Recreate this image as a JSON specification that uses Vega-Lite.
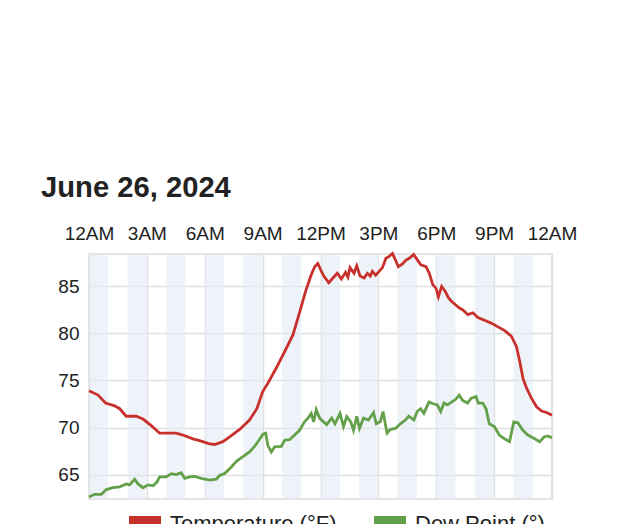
{
  "$schema": "https://vega.github.io/schema/vega-lite/v6.json",
  "autosize": {"type": "none"},
  "padding": {"left": 89, "top": 254, "right": 88, "bottom": 25},
  "width": 463,
  "height": 245,
  "background": "white",
  "config": {"font": "Liberation Sans", "view": {"stroke": "#dcdcdc", "strokeWidth": 1.5}},
  "title": {"text": "June 26, 2024", "anchor": "start", "frame": "group", "dx": -48, "fontSize": 29.2, "fontWeight": "bold", "color": "#222222", "offset": 21},
  "datasets": {
    "bands": [
      {"start": 0, "end": 1}, {"start": 2, "end": 3}, {"start": 4, "end": 5}, {"start": 6, "end": 7},
      {"start": 8, "end": 9}, {"start": 10, "end": 11}, {"start": 12, "end": 13}, {"start": 14, "end": 15},
      {"start": 16, "end": 17}, {"start": 18, "end": 19}, {"start": 20, "end": 21}, {"start": 22, "end": 23}
    ],
    "obs": [
      {"series": "Temperature (°F)", "hour": 0.0, "value": 73.9},
      {"series": "Temperature (°F)", "hour": 0.47, "value": 73.45},
      {"series": "Temperature (°F)", "hour": 0.86, "value": 72.6},
      {"series": "Temperature (°F)", "hour": 1.33, "value": 72.3},
      {"series": "Temperature (°F)", "hour": 1.59, "value": 72.0},
      {"series": "Temperature (°F)", "hour": 1.93, "value": 71.2},
      {"series": "Temperature (°F)", "hour": 2.45, "value": 71.2},
      {"series": "Temperature (°F)", "hour": 2.8, "value": 70.9},
      {"series": "Temperature (°F)", "hour": 3.23, "value": 70.2},
      {"series": "Temperature (°F)", "hour": 3.66, "value": 69.4},
      {"series": "Temperature (°F)", "hour": 4.0, "value": 69.4},
      {"series": "Temperature (°F)", "hour": 4.52, "value": 69.4},
      {"series": "Temperature (°F)", "hour": 4.87, "value": 69.2},
      {"series": "Temperature (°F)", "hour": 5.39, "value": 68.8},
      {"series": "Temperature (°F)", "hour": 5.82, "value": 68.55},
      {"series": "Temperature (°F)", "hour": 6.2, "value": 68.3},
      {"series": "Temperature (°F)", "hour": 6.51, "value": 68.2},
      {"series": "Temperature (°F)", "hour": 6.94, "value": 68.5},
      {"series": "Temperature (°F)", "hour": 7.29, "value": 69.0},
      {"series": "Temperature (°F)", "hour": 7.81, "value": 69.8},
      {"series": "Temperature (°F)", "hour": 8.32, "value": 70.8},
      {"series": "Temperature (°F)", "hour": 8.7, "value": 72.0},
      {"series": "Temperature (°F)", "hour": 9.0, "value": 73.8},
      {"series": "Temperature (°F)", "hour": 9.27, "value": 74.7},
      {"series": "Temperature (°F)", "hour": 9.7, "value": 76.3},
      {"series": "Temperature (°F)", "hour": 10.22, "value": 78.4},
      {"series": "Temperature (°F)", "hour": 10.57, "value": 79.85},
      {"series": "Temperature (°F)", "hour": 10.91, "value": 82.2},
      {"series": "Temperature (°F)", "hour": 11.23, "value": 84.5},
      {"series": "Temperature (°F)", "hour": 11.52, "value": 86.25},
      {"series": "Temperature (°F)", "hour": 11.7, "value": 87.1},
      {"series": "Temperature (°F)", "hour": 11.86, "value": 87.45},
      {"series": "Temperature (°F)", "hour": 12.0, "value": 86.8},
      {"series": "Temperature (°F)", "hour": 12.17, "value": 86.1},
      {"series": "Temperature (°F)", "hour": 12.43, "value": 85.4},
      {"series": "Temperature (°F)", "hour": 12.69, "value": 86.0},
      {"series": "Temperature (°F)", "hour": 12.87, "value": 86.4},
      {"series": "Temperature (°F)", "hour": 13.08, "value": 85.8},
      {"series": "Temperature (°F)", "hour": 13.3, "value": 86.5},
      {"series": "Temperature (°F)", "hour": 13.42, "value": 86.0},
      {"series": "Temperature (°F)", "hour": 13.53, "value": 87.0},
      {"series": "Temperature (°F)", "hour": 13.74, "value": 86.4},
      {"series": "Temperature (°F)", "hour": 13.88, "value": 87.2},
      {"series": "Temperature (°F)", "hour": 14.05, "value": 86.1},
      {"series": "Temperature (°F)", "hour": 14.26, "value": 85.9},
      {"series": "Temperature (°F)", "hour": 14.43, "value": 86.4},
      {"series": "Temperature (°F)", "hour": 14.58, "value": 86.1},
      {"series": "Temperature (°F)", "hour": 14.69, "value": 86.6},
      {"series": "Temperature (°F)", "hour": 14.86, "value": 86.2},
      {"series": "Temperature (°F)", "hour": 15.04, "value": 86.6},
      {"series": "Temperature (°F)", "hour": 15.21, "value": 87.0},
      {"series": "Temperature (°F)", "hour": 15.39, "value": 88.0},
      {"series": "Temperature (°F)", "hour": 15.56, "value": 88.2},
      {"series": "Temperature (°F)", "hour": 15.73, "value": 88.5},
      {"series": "Temperature (°F)", "hour": 15.91, "value": 87.7},
      {"series": "Temperature (°F)", "hour": 16.03, "value": 87.1},
      {"series": "Temperature (°F)", "hour": 16.25, "value": 87.4},
      {"series": "Temperature (°F)", "hour": 16.43, "value": 87.8},
      {"series": "Temperature (°F)", "hour": 16.6, "value": 88.0},
      {"series": "Temperature (°F)", "hour": 16.83, "value": 88.4},
      {"series": "Temperature (°F)", "hour": 17.03, "value": 87.8},
      {"series": "Temperature (°F)", "hour": 17.2, "value": 87.3},
      {"series": "Temperature (°F)", "hour": 17.47, "value": 87.1},
      {"series": "Temperature (°F)", "hour": 17.64, "value": 86.4},
      {"series": "Temperature (°F)", "hour": 17.82, "value": 85.2},
      {"series": "Temperature (°F)", "hour": 17.99, "value": 84.8},
      {"series": "Temperature (°F)", "hour": 18.11, "value": 83.9},
      {"series": "Temperature (°F)", "hour": 18.28, "value": 85.0},
      {"series": "Temperature (°F)", "hour": 18.46, "value": 84.5},
      {"series": "Temperature (°F)", "hour": 18.63, "value": 83.8},
      {"series": "Temperature (°F)", "hour": 18.8, "value": 83.4},
      {"series": "Temperature (°F)", "hour": 19.03, "value": 83.0},
      {"series": "Temperature (°F)", "hour": 19.2, "value": 82.7},
      {"series": "Temperature (°F)", "hour": 19.38, "value": 82.5},
      {"series": "Temperature (°F)", "hour": 19.64, "value": 82.0},
      {"series": "Temperature (°F)", "hour": 19.9, "value": 82.2},
      {"series": "Temperature (°F)", "hour": 20.16, "value": 81.7},
      {"series": "Temperature (°F)", "hour": 20.5, "value": 81.4},
      {"series": "Temperature (°F)", "hour": 20.85, "value": 81.1},
      {"series": "Temperature (°F)", "hour": 21.2, "value": 80.7},
      {"series": "Temperature (°F)", "hour": 21.55, "value": 80.3},
      {"series": "Temperature (°F)", "hour": 21.9, "value": 79.7},
      {"series": "Temperature (°F)", "hour": 22.16, "value": 78.6},
      {"series": "Temperature (°F)", "hour": 22.33, "value": 77.0},
      {"series": "Temperature (°F)", "hour": 22.5, "value": 75.2},
      {"series": "Temperature (°F)", "hour": 22.68, "value": 74.2},
      {"series": "Temperature (°F)", "hour": 22.94, "value": 73.1},
      {"series": "Temperature (°F)", "hour": 23.2, "value": 72.2},
      {"series": "Temperature (°F)", "hour": 23.46, "value": 71.75},
      {"series": "Temperature (°F)", "hour": 23.72, "value": 71.6},
      {"series": "Temperature (°F)", "hour": 24.0, "value": 71.3},
      {"series": "Dew Point (°)", "hour": 0.0, "value": 62.6},
      {"series": "Dew Point (°)", "hour": 0.29, "value": 62.9},
      {"series": "Dew Point (°)", "hour": 0.64, "value": 62.9},
      {"series": "Dew Point (°)", "hour": 0.9, "value": 63.4},
      {"series": "Dew Point (°)", "hour": 1.24, "value": 63.6},
      {"series": "Dew Point (°)", "hour": 1.59, "value": 63.7},
      {"series": "Dew Point (°)", "hour": 1.93, "value": 64.0},
      {"series": "Dew Point (°)", "hour": 2.1, "value": 63.9},
      {"series": "Dew Point (°)", "hour": 2.37, "value": 64.5},
      {"series": "Dew Point (°)", "hour": 2.54, "value": 64.0},
      {"series": "Dew Point (°)", "hour": 2.8, "value": 63.6},
      {"series": "Dew Point (°)", "hour": 3.06, "value": 63.9},
      {"series": "Dew Point (°)", "hour": 3.32, "value": 63.8},
      {"series": "Dew Point (°)", "hour": 3.52, "value": 64.2},
      {"series": "Dew Point (°)", "hour": 3.66, "value": 64.75},
      {"series": "Dew Point (°)", "hour": 4.0, "value": 64.75},
      {"series": "Dew Point (°)", "hour": 4.27, "value": 65.1},
      {"series": "Dew Point (°)", "hour": 4.52, "value": 65.0},
      {"series": "Dew Point (°)", "hour": 4.78, "value": 65.2},
      {"series": "Dew Point (°)", "hour": 4.96, "value": 64.6},
      {"series": "Dew Point (°)", "hour": 5.22, "value": 64.75},
      {"series": "Dew Point (°)", "hour": 5.48, "value": 64.8},
      {"series": "Dew Point (°)", "hour": 5.82, "value": 64.6},
      {"series": "Dew Point (°)", "hour": 6.25, "value": 64.4},
      {"series": "Dew Point (°)", "hour": 6.6, "value": 64.5},
      {"series": "Dew Point (°)", "hour": 6.77, "value": 64.9},
      {"series": "Dew Point (°)", "hour": 7.03, "value": 65.1},
      {"series": "Dew Point (°)", "hour": 7.38, "value": 65.8},
      {"series": "Dew Point (°)", "hour": 7.64, "value": 66.4},
      {"series": "Dew Point (°)", "hour": 7.98, "value": 66.9},
      {"series": "Dew Point (°)", "hour": 8.32, "value": 67.4},
      {"series": "Dew Point (°)", "hour": 8.58, "value": 68.0},
      {"series": "Dew Point (°)", "hour": 8.81, "value": 68.65},
      {"series": "Dew Point (°)", "hour": 9.02, "value": 69.3},
      {"series": "Dew Point (°)", "hour": 9.16, "value": 69.4},
      {"series": "Dew Point (°)", "hour": 9.27, "value": 68.1},
      {"series": "Dew Point (°)", "hour": 9.45, "value": 67.4},
      {"series": "Dew Point (°)", "hour": 9.62, "value": 67.95},
      {"series": "Dew Point (°)", "hour": 9.97, "value": 68.0},
      {"series": "Dew Point (°)", "hour": 10.14, "value": 68.65},
      {"series": "Dew Point (°)", "hour": 10.4, "value": 68.7},
      {"series": "Dew Point (°)", "hour": 10.66, "value": 69.2},
      {"series": "Dew Point (°)", "hour": 10.91, "value": 69.7},
      {"series": "Dew Point (°)", "hour": 11.17, "value": 70.6},
      {"series": "Dew Point (°)", "hour": 11.35, "value": 71.0},
      {"series": "Dew Point (°)", "hour": 11.52, "value": 71.5},
      {"series": "Dew Point (°)", "hour": 11.64, "value": 70.6},
      {"series": "Dew Point (°)", "hour": 11.78, "value": 71.9},
      {"series": "Dew Point (°)", "hour": 11.95, "value": 71.0},
      {"series": "Dew Point (°)", "hour": 12.16, "value": 70.6},
      {"series": "Dew Point (°)", "hour": 12.32, "value": 70.3},
      {"series": "Dew Point (°)", "hour": 12.58, "value": 71.0},
      {"series": "Dew Point (°)", "hour": 12.75, "value": 70.4},
      {"series": "Dew Point (°)", "hour": 13.01, "value": 71.5},
      {"series": "Dew Point (°)", "hour": 13.19, "value": 70.1},
      {"series": "Dew Point (°)", "hour": 13.36, "value": 71.15},
      {"series": "Dew Point (°)", "hour": 13.57, "value": 70.6},
      {"series": "Dew Point (°)", "hour": 13.71, "value": 69.7},
      {"series": "Dew Point (°)", "hour": 13.88, "value": 71.2},
      {"series": "Dew Point (°)", "hour": 14.02, "value": 69.9},
      {"series": "Dew Point (°)", "hour": 14.23, "value": 71.0},
      {"series": "Dew Point (°)", "hour": 14.49, "value": 70.8},
      {"series": "Dew Point (°)", "hour": 14.75, "value": 71.6},
      {"series": "Dew Point (°)", "hour": 14.89, "value": 70.4},
      {"series": "Dew Point (°)", "hour": 15.1, "value": 70.6},
      {"series": "Dew Point (°)", "hour": 15.24, "value": 71.7},
      {"series": "Dew Point (°)", "hour": 15.45, "value": 69.4},
      {"series": "Dew Point (°)", "hour": 15.62, "value": 69.8},
      {"series": "Dew Point (°)", "hour": 15.88, "value": 69.9},
      {"series": "Dew Point (°)", "hour": 16.14, "value": 70.4},
      {"series": "Dew Point (°)", "hour": 16.4, "value": 70.8},
      {"series": "Dew Point (°)", "hour": 16.58, "value": 71.2},
      {"series": "Dew Point (°)", "hour": 16.84, "value": 70.8},
      {"series": "Dew Point (°)", "hour": 17.01, "value": 71.7},
      {"series": "Dew Point (°)", "hour": 17.19, "value": 72.0},
      {"series": "Dew Point (°)", "hour": 17.36, "value": 71.5},
      {"series": "Dew Point (°)", "hour": 17.62, "value": 72.7},
      {"series": "Dew Point (°)", "hour": 17.88, "value": 72.5},
      {"series": "Dew Point (°)", "hour": 18.06, "value": 72.4},
      {"series": "Dew Point (°)", "hour": 18.23, "value": 71.7},
      {"series": "Dew Point (°)", "hour": 18.4, "value": 72.6},
      {"series": "Dew Point (°)", "hour": 18.58, "value": 72.4},
      {"series": "Dew Point (°)", "hour": 18.79, "value": 72.7},
      {"series": "Dew Point (°)", "hour": 19.01, "value": 73.0},
      {"series": "Dew Point (°)", "hour": 19.19, "value": 73.45},
      {"series": "Dew Point (°)", "hour": 19.36, "value": 72.9},
      {"series": "Dew Point (°)", "hour": 19.62, "value": 72.6},
      {"series": "Dew Point (°)", "hour": 19.8, "value": 73.1},
      {"series": "Dew Point (°)", "hour": 20.06, "value": 73.3},
      {"series": "Dew Point (°)", "hour": 20.18, "value": 72.6},
      {"series": "Dew Point (°)", "hour": 20.41, "value": 72.6},
      {"series": "Dew Point (°)", "hour": 20.58, "value": 72.0},
      {"series": "Dew Point (°)", "hour": 20.75, "value": 70.4},
      {"series": "Dew Point (°)", "hour": 21.01, "value": 70.1},
      {"series": "Dew Point (°)", "hour": 21.27, "value": 69.2},
      {"series": "Dew Point (°)", "hour": 21.54, "value": 68.8},
      {"series": "Dew Point (°)", "hour": 21.8, "value": 68.5},
      {"series": "Dew Point (°)", "hour": 22.02, "value": 70.6},
      {"series": "Dew Point (°)", "hour": 22.23, "value": 70.5},
      {"series": "Dew Point (°)", "hour": 22.49, "value": 69.7},
      {"series": "Dew Point (°)", "hour": 22.75, "value": 69.2},
      {"series": "Dew Point (°)", "hour": 23.1, "value": 68.8},
      {"series": "Dew Point (°)", "hour": 23.36, "value": 68.5},
      {"series": "Dew Point (°)", "hour": 23.59, "value": 69.0},
      {"series": "Dew Point (°)", "hour": 23.8, "value": 69.1},
      {"series": "Dew Point (°)", "hour": 24.0, "value": 68.9}
    ]
  },
  "layer": [
    {
      "data": {"name": "bands"},
      "mark": {"type": "rect", "color": "#e3ebf5", "opacity": 0.6},
      "encoding": {
        "x": {
          "field": "start", "type": "quantitative",
          "scale": {"domain": [0, 24], "nice": false, "zero": false},
          "axis": {
            "orient": "top", "values": [0, 3, 6, 9, 12, 15, 18, 21, 24],
            "labelExpr": "['12AM','3AM','6AM','9AM','12PM','3PM','6PM','9PM','12AM'][round(datum.value/3)]",
            "title": null, "grid": true, "gridColor": "#e0e0e0", "gridWidth": 1.5, "domain": false, "ticks": false,
            "labelPadding": 11, "labelFontSize": 19, "labelColor": "#222222", "labelFlush": false, "labelOverlap": false
          }
        },
        "x2": {"field": "end"}
      }
    },
    {
      "data": {"name": "obs"},
      "mark": {"type": "line", "strokeWidth": 2.8, "interpolate": "linear"},
      "encoding": {
        "x": {"field": "hour", "type": "quantitative"},
        "y": {
          "field": "value", "type": "quantitative",
          "scale": {"domain": [62.4, 88.45], "nice": false, "zero": false},
          "axis": {
            "values": [65, 70, 75, 80, 85], "title": null, "grid": true, "gridColor": "#e0e0e0", "gridWidth": 1.5,
            "domain": false, "ticks": false, "labelPadding": 10, "labelFontSize": 19, "labelColor": "#222222"
          }
        },
        "color": {
          "field": "series", "type": "nominal",
          "scale": {"domain": ["Temperature (°F)", "Dew Point (°)"], "range": ["#c8302b", "#63a04a"]},
          "legend": {
            "title": null, "orient": "none", "legendX": 32, "legendY": 246, "direction": "horizontal",
            "symbolType": "stroke", "symbolSize": 1024, "symbolStrokeWidth": 16,
            "labelFontSize": 22, "labelColor": "#222222", "labelLimit": 400, "columnPadding": 5, "labelOffset": 1
          }
        }
      }
    }
  ]
}
